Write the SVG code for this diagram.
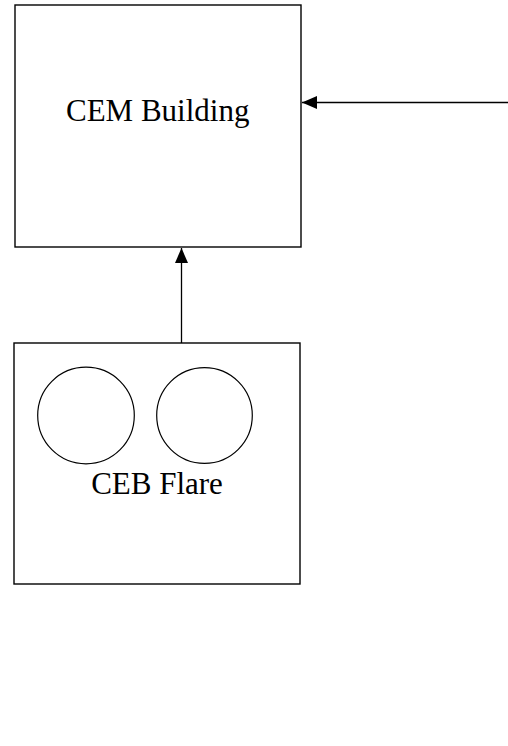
<svg xmlns="http://www.w3.org/2000/svg" width="508" height="746" viewBox="0 0 508 746">
<style>
.box{fill:#fff;stroke:#000;stroke-width:1.4}
.circ{fill:none;stroke:#000;stroke-width:1.2}
.lbl{font-family:"Liberation Serif","Times New Roman",serif;font-size:31px;fill:#000}
.conn{stroke:#000;stroke-width:1.3;fill:none}
</style>
<defs>
<marker id="ah" viewBox="0 0 15 13" refX="15" refY="6.5" markerWidth="15" markerHeight="13" markerUnits="userSpaceOnUse" orient="auto">
<path d="M0,0 L15,6.5 L0,13 Z" fill="#000"/>
</marker>
</defs>
<rect width="508" height="746" fill="#fff"/>
<g id="cem-building">
<rect class="box" x="15" y="5" width="286" height="242"/>
<text class="lbl" x="66" y="121">CEM Building</text>
</g>
<g id="ceb-flare">
<rect class="box" x="14" y="343" width="286" height="241"/>
<circle class="circ" cx="86" cy="415.5" r="48.3"/>
<circle class="circ" cx="204.5" cy="415.5" r="47.8"/>
<text class="lbl" x="157" y="494" text-anchor="middle">CEB Flare</text>
</g>
<g id="connectors">
<line class="conn" x1="508" y1="102.5" x2="302" y2="102.5" marker-end="url(#ah)"/>
<line class="conn" x1="181.5" y1="343" x2="181.5" y2="248" marker-end="url(#ah)"/>
</g>
</svg>
